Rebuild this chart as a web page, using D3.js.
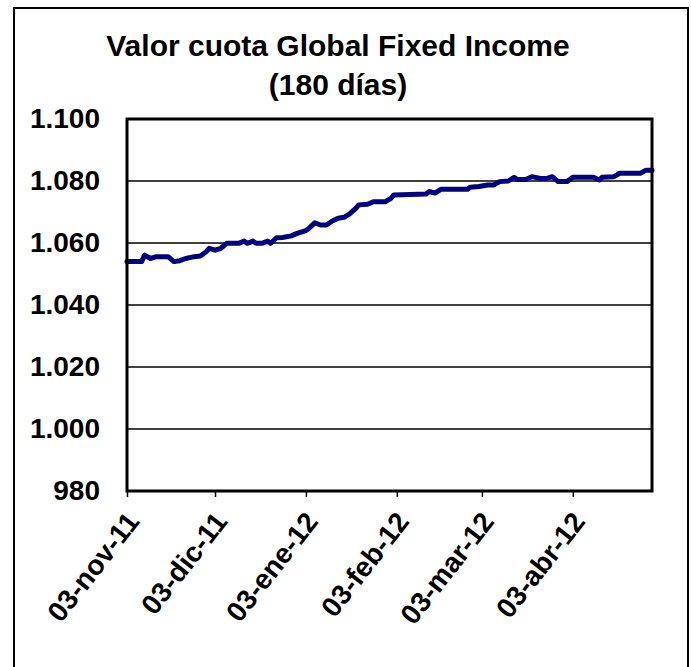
<!DOCTYPE html>
<html>
<head>
<meta charset="utf-8">
<script src="https://cdn.jsdelivr.net/npm/d3@7"></script>
<style>
  body { margin: 0; background: #fff; }
  text { font-family: Arial, "Liberation Sans", sans-serif; font-weight: bold; fill: #000; }
</style>
</head>
<body>
<div id="chart"></div>
<script>
// Values
const dates = [
  "2011-11-03", "2011-11-08", "2011-11-09", "2011-11-11", "2011-11-13", "2011-11-17",
  "2011-11-19", "2011-11-21", "2011-11-23", "2011-11-26", "2011-11-28", "2011-11-30",
  "2011-12-01", "2011-12-03", "2011-12-05", "2011-12-07", "2011-12-11", "2011-12-13",
  "2011-12-14", "2011-12-16", "2011-12-17", "2011-12-19", "2011-12-21", "2011-12-22",
  "2011-12-24", "2011-12-26", "2011-12-29", "2011-12-31", "2012-01-03", "2012-01-04",
  "2012-01-06", "2012-01-08", "2012-01-10", "2012-01-12", "2012-01-14", "2012-01-16",
  "2012-01-18", "2012-01-20", "2012-01-21", "2012-01-24", "2012-01-26", "2012-01-30",
  "2012-02-01", "2012-02-02", "2012-02-13", "2012-02-14", "2012-02-16", "2012-02-18",
  "2012-02-27", "2012-02-28", "2012-03-02", "2012-03-05", "2012-03-07", "2012-03-09",
  "2012-03-12", "2012-03-14", "2012-03-15", "2012-03-18", "2012-03-20", "2012-03-23",
  "2012-03-25", "2012-03-27", "2012-03-29", "2012-04-01", "2012-04-03", "2012-04-10",
  "2012-04-12", "2012-04-13", "2012-04-17", "2012-04-19", "2012-04-26", "2012-04-28",
  "2012-04-30"
];
const valores = [
  1054.0, 1054.0, 1056.1, 1055.0, 1055.6, 1055.6,
  1054.0, 1054.3, 1055.0, 1055.6, 1055.8, 1057.2,
  1058.3, 1057.7, 1058.3, 1059.9, 1059.9, 1060.6,
  1059.9, 1060.6, 1059.9, 1059.9, 1060.6, 1059.9,
  1061.7, 1061.8, 1062.3, 1063.1, 1064.0, 1064.7,
  1066.5, 1065.8, 1065.8, 1067.1, 1068.0, 1068.3,
  1069.5, 1071.2, 1072.3, 1072.5, 1073.3, 1073.3,
  1074.4, 1075.5, 1075.8, 1076.6, 1076.1, 1077.3,
  1077.3, 1078.0, 1078.2, 1078.7, 1078.7, 1079.8,
  1080.0, 1081.2, 1080.5, 1080.5, 1081.4, 1080.8,
  1080.8, 1081.4, 1079.8, 1079.8, 1081.2, 1081.2,
  1080.3, 1081.2, 1081.4, 1082.5, 1082.5, 1083.5,
  1083.5
];
const yTicks = [980, 1000, 1020, 1040, 1060, 1080, 1100];
const xTickDates = ["2011-11-03", "2011-12-03", "2012-01-03", "2012-02-03", "2012-03-03", "2012-04-03"];
const xTickLabels = ["03-nov-11", "03-dic-11", "03-ene-12", "03-feb-12", "03-mar-12", "03-abr-12"];
const titleLines = ["Valor cuota Global Fixed Income", "(180 días)"];

const width = 691;
const height = 667;
const margin = { top: 119, right: 39, bottom: 176, left: 127 };

const parseDate = d3.timeParse("%Y-%m-%d");
const data = dates.map((d, i) => ({ date: parseDate(d), value: valores[i] }));

// thousands separator is a dot, as in the original
const esLocale = d3.formatLocale({ decimal: ",", thousands: ".", grouping: [3], currency: ["$", ""] });
const fmt = esLocale.format(",d");

const svg = d3
  .select("#chart")
  .append("svg")
  .attr("width", width)
  .attr("height", height);

// outer chart border
svg
  .append("rect")
  .attr("x", 14)
  .attr("y", 8)
  .attr("width", 674)
  .attr("height", 700)
  .attr("fill", "#fff")
  .attr("stroke", "#000")
  .attr("stroke-width", 2);

// title
svg
  .append("g")
  .selectAll("text")
  .data(titleLines)
  .join("text")
  .attr("x", 338)
  .attr("y", (d, i) => 56 + i * 39)
  .attr("text-anchor", "middle")
  .style("font-size", "30px")
  .text((d) => d);

const x = d3
  .scaleTime()
  .domain([parseDate("2011-11-03"), parseDate("2012-04-30")])
  .range([margin.left, width - margin.right]);

const y = d3
  .scaleLinear()
  .domain([980, 1100])
  .range([height - margin.bottom, margin.top]);

// horizontal gridlines
svg
  .append("g")
  .selectAll("line")
  .data(yTicks.slice(1, -1))
  .join("line")
  .attr("x1", x.range()[0])
  .attr("x2", x.range()[1])
  .attr("y1", (d) => y(d))
  .attr("y2", (d) => y(d))
  .attr("stroke", "#000")
  .attr("stroke-width", 1.5);

// y axis labels
const yAxis = svg
  .append("g")
  .attr("transform", `translate(${margin.left},0)`)
  .call(d3.axisLeft(y).tickValues(yTicks).tickFormat(fmt).tickSize(0).tickPadding(27));
yAxis.select(".domain").remove();
yAxis
  .selectAll("text")
  .style("font-size", "28px")
  .style("font-family", "Arial, 'Liberation Sans', sans-serif")
  .attr("fill", "#000");

// x axis ticks + rotated labels
const tickParsed = xTickDates.map(parseDate);
const xAxis = svg
  .append("g")
  .attr("transform", `translate(0,${y(980)})`)
  .call(
    d3
      .axisBottom(x)
      .tickValues(tickParsed)
      .tickFormat((d, i) => xTickLabels[i])
      .tickSize(6)
  );
xAxis.select(".domain").remove();
xAxis.selectAll("line").attr("stroke", "#000").attr("stroke-width", 1.5);
xAxis
  .selectAll("text")
  .attr("y", 0)
  .attr("dy", 0)
  .attr("text-anchor", "end")
  .attr("transform", "translate(13,31) rotate(-52)")
  .style("font-size", "28px")
  .style("font-family", "Arial, 'Liberation Sans', sans-serif")
  .attr("fill", "#000");

// the series
const line = d3
  .line()
  .x((d) => x(d.date))
  .y((d) => y(d.value));

svg
  .append("path")
  .datum(data)
  .attr("d", line)
  .attr("fill", "none")
  .attr("stroke", "#000080")
  .attr("stroke-width", 5)
  .attr("stroke-linejoin", "round")
  .attr("stroke-linecap", "round");

// plot area border
svg
  .append("rect")
  .attr("x", x.range()[0])
  .attr("y", y(1100))
  .attr("width", x.range()[1] - x.range()[0])
  .attr("height", y(980) - y(1100))
  .attr("fill", "none")
  .attr("stroke", "#000")
  .attr("stroke-width", 3);
</script>
</body>
</html>
